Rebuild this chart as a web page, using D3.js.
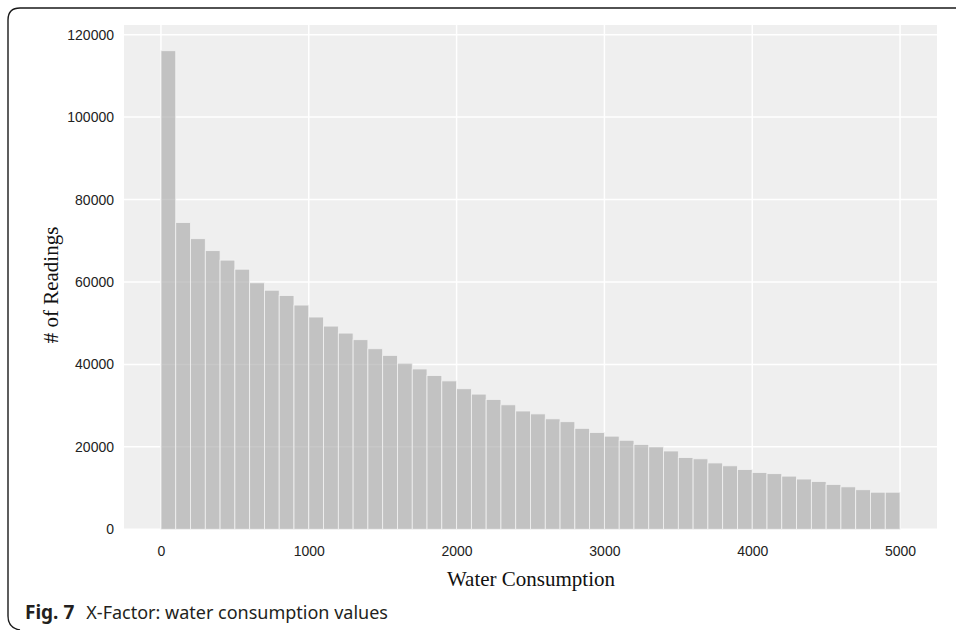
<!DOCTYPE html>
<html>
<head>
<meta charset="utf-8">
<script src="https://cdn.jsdelivr.net/npm/d3@7"></script>
<style>
  html, body { margin: 0; padding: 0; background: #fff; }
  svg { display: block; }
</style>
</head>
<body>
<svg id="chart" width="956" height="630"></svg>
<script>
// Histogram of water consumption readings: 50 bins of width 100
const binWidth = 100;
const binStarts = d3.range(0, 5000, binWidth);
const counts = [
  116100, 74400, 70500, 67600, 65300, 63100, 59800, 58000, 56700, 54400,
  51500, 49300, 47600, 46000, 43800, 42200, 40300, 38900, 37300, 36000,
  34100, 32800, 31500, 30200, 28700, 28000, 26800, 26100, 24500, 23500,
  22600, 21600, 20600, 20000, 19000, 17400, 17100, 16100, 15400, 14500,
  13800, 13500, 12900, 12200, 11600, 10900, 10300, 9600, 9000, 9000
];
const xTicks = [0, 1000, 2000, 3000, 4000, 5000];
const yTicks = [0, 20000, 40000, 60000, 80000, 100000, 120000];

const xTitle = "Water Consumption";
const yTitle = "# of Readings";
const captionBold = "Fig. 7";
const captionText = "X-Factor: water consumption values";

const svg = d3.select("#chart");

// Panel geometry
const panel = { left: 124, right: 937, top: 25, bottom: 529.3 };

const x = d3.scaleLinear().domain([-250, 5250]).range([panel.left, panel.right]);
const y = d3.scaleLinear().domain([0, 122340]).range([panel.bottom, panel.top]);

// Outer frame: rounded top-left and bottom-left corners
svg.append("path")
  .attr("d", "M956,8 H20 Q8,8 8,20 V616 Q8,628 20,630")
  .attr("fill", "none")
  .attr("stroke", "#1a1a1a")
  .attr("stroke-width", 1.4);

// Panel background
svg.append("rect")
  .attr("x", panel.left).attr("y", panel.top)
  .attr("width", panel.right - panel.left)
  .attr("height", panel.bottom - panel.top)
  .attr("fill", "#efefef");

// Gridlines
const grid = svg.append("g");
grid.selectAll("line.gy").data(yTicks).join("line")
  .attr("class", "gy")
  .attr("x1", panel.left).attr("x2", panel.right)
  .attr("y1", d => y(d)).attr("y2", d => y(d))
  .attr("stroke", "#ffffff").attr("stroke-width", 1.5);
grid.selectAll("line.gx").data(xTicks).join("line")
  .attr("class", "gx")
  .attr("y1", panel.top).attr("y2", panel.bottom)
  .attr("x1", d => x(d)).attr("x2", d => x(d))
  .attr("stroke", "#ffffff").attr("stroke-width", 1.5);

// Bars
svg.append("g").selectAll("rect").data(counts).join("rect")
  .attr("x", (d, i) => x(binStarts[i]))
  .attr("width", (d, i) => x(binStarts[i] + binWidth) - x(binStarts[i]))
  .attr("y", d => y(d))
  .attr("height", d => y(0) - y(d))
  .attr("fill", "#a3a3a3")
  .attr("fill-opacity", 0.6)
  .attr("stroke", "#f2f2f2")
  .attr("stroke-width", 0.8);

// Axes (labels only, no domain line or tick marks)
const xAxis = svg.append("g")
  .attr("transform", `translate(0,${panel.bottom})`)
  .call(d3.axisBottom(x).tickValues(xTicks).tickFormat(d3.format("d")).tickSize(0).tickPadding(17));
const yAxis = svg.append("g")
  .attr("transform", `translate(${panel.left},0)`)
  .call(d3.axisLeft(y).tickValues(yTicks).tickFormat(d3.format("d")).tickSize(0).tickPadding(10));
[xAxis, yAxis].forEach(g => {
  g.select(".domain").remove();
  g.selectAll("text")
    .attr("font-family", "'Liberation Sans', Arial, sans-serif")
    .attr("font-size", 14)
    .attr("fill", "#222");
});

// Axis titles
svg.append("text")
  .attr("x", 531).attr("y", 586)
  .attr("text-anchor", "middle")
  .attr("font-family", "'Liberation Serif', 'Times New Roman', serif")
  .attr("font-size", 21)
  .attr("fill", "#111")
  .text(xTitle);
svg.append("text")
  .attr("transform", "translate(58,285) rotate(-90)")
  .attr("text-anchor", "middle")
  .attr("font-family", "'Liberation Serif', 'Times New Roman', serif")
  .attr("font-size", 21)
  .attr("fill", "#111")
  .text(yTitle);

// Figure caption
const cap = svg.append("text")
  .attr("x", 25).attr("y", 619)
  .attr("font-family", "'Noto Sans', 'Open Sans', sans-serif")
  .attr("font-size", 19)
  .attr("fill", "#231f20");
cap.append("tspan").attr("font-weight", "bold").text(captionBold);
cap.append("tspan").attr("dx", 12).attr("font-size", 18).text(captionText);
</script>
</body>
</html>
